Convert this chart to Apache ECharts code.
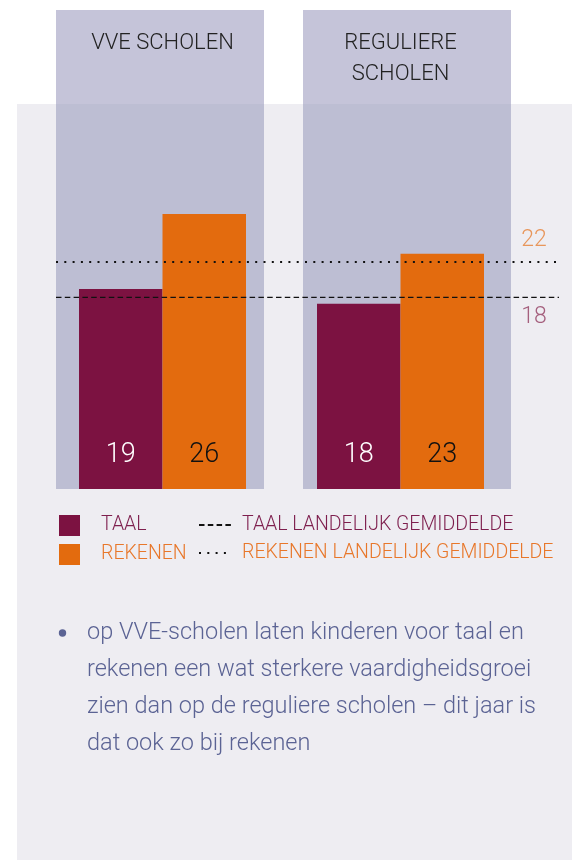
<!DOCTYPE html>
<html>
<head>
<meta charset="utf-8">
<script src="https://cdn.jsdelivr.net/npm/echarts@6/dist/echarts.min.js"></script>
<style>
  html,body{margin:0;padding:0;background:#fff;}
  #chart{width:572px;height:860px;}
</style>
</head>
<body>
<div id="chart"></div>
<script>
  // data
  const categories = ['VVE SCHOLEN', 'REGULIERE\nSCHOLEN'];
  const taalScores = [19.2, 17.8];
  const rekenenScores = [26.4, 22.6];
  const taalLandelijk = 18.4;
  const rekenenLandelijk = 21.8;
  const seriesNames = ['TAAL', 'REKENEN', 'TAAL LANDELIJK GEMIDDELDE', 'REKENEN LANDELIJK GEMIDDELDE'];
  const bodyText = 'op VVE-scholen laten kinderen voor taal en\nrekenen een wat sterkere vaardigheidsgroei\nzien dan op de reguliere scholen \u2013 dit jaar is\ndat ook zo bij rekenen';

  const font = 'Roboto, "Noto Sans", sans-serif';
  const taalColor = '#7c1241';
  const rekenenColor = '#e36b0e';

  let myChart = echarts.init(document.getElementById('chart'));

  let option = {
    animation: false,
    textStyle: {fontFamily: font},
    graphic: [
      {type: 'rect', z: 0, shape: {x: 17, y: 104, width: 555, height: 756}, style: {fill: '#eeedf2'}},
      {type: 'rect', z: 0, shape: {x: 56, y: 10, width: 208, height: 94}, style: {fill: '#c5c4d9'}},
      {type: 'rect', z: 0, shape: {x: 56, y: 104, width: 208, height: 385}, style: {fill: '#bdbed3'}},
      {type: 'rect', z: 0, shape: {x: 303, y: 10, width: 208, height: 94}, style: {fill: '#c5c4d9'}},
      {type: 'rect', z: 0, shape: {x: 303, y: 104, width: 208, height: 385}, style: {fill: '#bdbed3'}},
      {type: 'circle', z: 1, shape: {cx: 62.5, cy: 633, r: 3.7}, style: {fill: '#5b6394'}},
      {
        type: 'text', z: 1, left: 87, top: 614,
        style: {
          text: bodyText,
          font: '300 23.5px ' + font,
          lineHeight: 37.3,
          fill: '#5b6394'
        }
      }
    ],
    grid: [
      {left: 43.5, right: 52.5, top: 10, bottom: 371},
      {left: 56, right: 13, top: 10, bottom: 371}
    ],
    xAxis: [
      {
        type: 'category',
        gridIndex: 0,
        position: 'top',
        data: categories,
        axisLine: {show: false},
        axisTick: {show: false},
        axisLabel: {
          inside: true,
          margin: 18,
          verticalAlign: 'top',
          color: '#222',
          fontSize: 22,
          fontWeight: 300,
          lineHeight: 31
        }
      },
      {type: 'value', gridIndex: 1, min: 0, max: 1, show: false}
    ],
    yAxis: [
      {type: 'value', gridIndex: 0, min: 0, max: 46, show: false},
      {type: 'value', gridIndex: 1, min: 0, max: 46, show: false}
    ],
    legend: [
      {
        orient: 'vertical',
        left: 59,
        top: 515,
        padding: 0,
        itemWidth: 21,
        itemHeight: 21,
        itemGap: 8,
        icon: 'rect',
        selectedMode: false,
        textStyle: {fontSize: 19.5, fontWeight: 300, padding: [0, 0, 0, 16]},
        data: [
          {name: seriesNames[0], textStyle: {color: '#7e1f4e'}},
          {name: seriesNames[1], textStyle: {color: '#e8772a'}}
        ]
      },
      {
        orient: 'vertical',
        left: 198,
        top: 515,
        padding: 0,
        itemWidth: 32,
        itemHeight: 21,
        itemGap: 8,
        selectedMode: false,
        itemStyle: {opacity: 0},
        textStyle: {fontSize: 19.5, fontWeight: 300, padding: [0, 0, 0, 6]},
        data: [
          {name: seriesNames[2], textStyle: {color: '#7e1f4e'}},
          {name: seriesNames[3], textStyle: {color: '#e8772a'}}
        ]
      }
    ],
    series: [
      {
        name: seriesNames[0],
        type: 'bar',
        xAxisIndex: 0,
        yAxisIndex: 0,
        barWidth: 83.5,
        barGap: '0%',
        itemStyle: {color: taalColor},
        label: {
          show: true,
          position: 'insideBottom',
          distance: 20,
          fontSize: 27,
          fontWeight: 300,
          color: '#fff',
          formatter: p => Math.round(p.value)
        },
        data: taalScores
      },
      {
        name: seriesNames[1],
        type: 'bar',
        xAxisIndex: 0,
        yAxisIndex: 0,
        barWidth: 83.5,
        barGap: '0%',
        itemStyle: {color: rekenenColor},
        label: {
          show: true,
          position: 'insideBottom',
          distance: 20,
          fontSize: 27,
          fontWeight: 300,
          color: '#111',
          formatter: p => Math.round(p.value)
        },
        data: rekenenScores
      },
      {
        name: seriesNames[2],
        type: 'line',
        xAxisIndex: 1,
        yAxisIndex: 1,
        z: 5,
        symbol: 'none',
        itemStyle: {color: '#111'},
        lineStyle: {color: '#111', width: 1.3, type: [5.5, 3.3]},
        endLabel: {
          show: true,
          distance: 0,
          offset: [-25, 20],
          align: 'center',
          verticalAlign: 'middle',
          fontSize: 23,
          fontWeight: 300,
          color: '#a5607e',
          formatter: p => Math.round(p.value[1])
        },
        data: [[0, taalLandelijk], [1, taalLandelijk]]
      },
      {
        name: seriesNames[3],
        type: 'line',
        xAxisIndex: 1,
        yAxisIndex: 1,
        z: 5,
        symbol: 'none',
        itemStyle: {color: '#111'},
        lineStyle: {color: '#111', width: 2, type: [2, 6.3]},
        endLabel: {
          show: true,
          distance: 0,
          offset: [-25, -22],
          align: 'center',
          verticalAlign: 'middle',
          fontSize: 23,
          fontWeight: 300,
          color: '#e8965b',
          formatter: p => Math.round(p.value[1])
        },
        data: [[0, rekenenLandelijk], [1, rekenenLandelijk]]
      }
    ]
  };
  myChart.setOption(option);
  window.addEventListener('resize', function () {
    myChart.resize();
  });
</script>
</body>
</html>
